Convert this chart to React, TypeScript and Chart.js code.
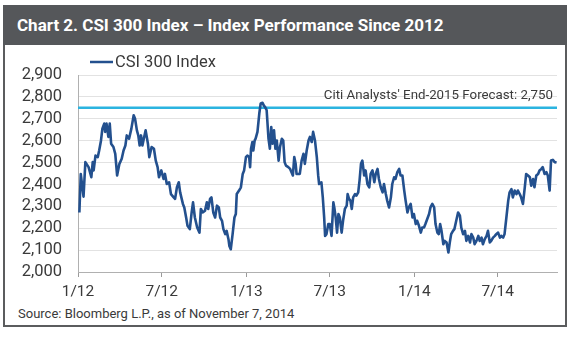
import React, { useEffect, useRef } from "react";
import { Chart, registerables } from "chart.js";

Chart.register(...registerables);

const titleText = "Chart 2. CSI 300 Index \u2013 Index Performance Since 2012";
const sourceText = "Source: Bloomberg L.P., as of November 7, 2014";
const seriesLabel = "CSI 300 Index";
const forecastLabel = "Citi Analysts' End-2015 Forecast: 2,750";
const forecastValue = 2750;

// x axis: days since 1 Jan 2012
const tickDays = [0, 182, 366, 547, 731, 912];
const tickLabels = ["1/12", "7/12", "1/13", "7/13", "1/14", "7/14"];
const lastDay = 1041;
const yMin = 2000;
const yMax = 2900;
const yStep = 100;

const dayOffsets = [
  3, 6, 12, 16, 23, 29, 32, 34, 38, 43, 46, 50, 53, 57, 59, 62, 66, 69, 72, 77, 81, 85, 90, 95, 99, 103, 106, 111, 116, 121,
  124, 128, 131, 134, 137, 140, 143, 147, 152, 155, 160, 165, 169, 173, 176, 181, 186, 189, 193, 198, 202,
  208, 211, 215, 219, 222, 228, 231, 235, 238, 243, 247, 250, 254, 259, 264, 267, 271, 276, 280, 283, 287, 290, 294, 298,
  302, 306, 309, 313, 316, 320, 323, 327, 329, 332, 336, 340, 343, 345, 350, 354, 358, 361, 365, 368, 372, 374, 376, 379,
  381, 384, 386, 390, 394, 397, 401,
  404, 407, 410, 414, 417, 420, 423, 426, 429, 432, 436, 439, 443, 446, 449, 452, 457, 461, 464, 467, 470, 473, 475, 479,
  482, 486, 490, 493, 497, 501, 504, 508, 511, 515, 519, 522, 524, 529, 532, 535, 537, 540, 544, 547, 551, 555, 557, 560,
  563, 566, 569, 573, 576, 580, 584, 586, 589, 592, 595, 598, 602, 605, 609, 612, 615, 618,
  622, 625, 629, 633, 636, 640, 644, 647, 651, 654, 658, 662, 665, 669, 672, 676, 680, 683, 687, 690, 694, 698, 701, 705,
  709, 712, 716, 719, 723, 727, 730, 734, 737, 741, 745, 748, 752, 755, 759, 763, 766, 770, 774, 777, 781, 784, 787, 790,
  794, 797, 801, 805, 808, 811, 815, 818,
  822, 826, 830, 833, 837, 841, 844, 848, 852, 855, 859, 862, 866, 870, 873, 877, 880, 884, 888, 891, 895, 898, 902, 906,
  909, 913, 917, 920, 924, 927, 931, 935, 938, 942, 945, 949, 953, 956, 960, 963, 967, 971, 974, 978, 982, 985, 989, 992,
  996, 1000, 1003, 1007, 1010, 1014, 1018, 1021, 1025, 1028, 1032, 1036, 1040,
];

const indexValues = [
  2272, 2448, 2344, 2502, 2479, 2433, 2502, 2464, 2532, 2525, 2555, 2601, 2655, 2678, 2640, 2678, 2617, 2678, 2586, 2571,
  2540, 2441, 2494, 2517, 2555, 2578, 2624, 2609, 2655, 2716,
  2700, 2647, 2624, 2578, 2624, 2578, 2609, 2647, 2586, 2525, 2571, 2563, 2509, 2479, 2433, 2464, 2425, 2448, 2402, 2410, 2356,
  2341, 2334, 2387, 2410, 2364, 2311, 2295, 2249, 2211, 2196, 2272, 2318, 2249, 2203, 2180, 2288, 2272, 2280, 2318, 2288,
  2334, 2341, 2272, 2249,
  2303, 2295, 2249, 2234, 2196, 2173, 2188, 2150, 2119, 2104, 2173, 2249, 2265, 2356, 2372, 2387, 2448, 2464, 2525, 2532,
  2525, 2479, 2563, 2594,
  2555, 2601, 2609, 2640, 2724, 2770, 2773,
  2760, 2752, 2739, 2609, 2563, 2662, 2586, 2647, 2563, 2601, 2509, 2571, 2609, 2601, 2502, 2486, 2479, 2471, 2456, 2441,
  2525, 2494, 2448, 2448,
  2448, 2509, 2540, 2494, 2555, 2601, 2617, 2594, 2640, 2601, 2525, 2441, 2402, 2410, 2341, 2249, 2165, 2173, 2219, 2219,
  2165, 2318, 2295, 2249,
  2180, 2265, 2249, 2180, 2234, 2288, 2303, 2356, 2334, 2326, 2288, 2341, 2356, 2349, 2364, 2420, 2494, 2509,
  2441, 2464, 2402, 2387, 2448, 2464, 2410, 2448, 2471, 2425, 2387, 2364, 2402, 2356, 2326, 2295, 2341, 2402, 2433, 2425,
  2456, 2471, 2441, 2441,
  2372, 2326, 2272, 2295, 2311, 2249, 2265, 2219, 2234, 2211, 2180, 2203, 2203, 2219, 2242, 2265, 2295, 2311, 2295, 2219,
  2180, 2173, 2219, 2188,
  2127, 2142, 2135, 2089, 2135, 2173, 2188, 2196,
  2234, 2272, 2257, 2203, 2173, 2188, 2142, 2165, 2135, 2173, 2157, 2127, 2142, 2165, 2142, 2157, 2127, 2150, 2165, 2188,
  2135, 2142, 2157, 2165,
  2173, 2180, 2157, 2165, 2157, 2173, 2249, 2326, 2364, 2379, 2341, 2372, 2356, 2372, 2356, 2341, 2311, 2387, 2448, 2441,
  2433, 2394, 2425, 2387,
  2441, 2448, 2464, 2471, 2479, 2448, 2456, 2441, 2372, 2509, 2512, 2502, 2500,
];

const lineColor = "#23508e";
const forecastColor = "#2bb4e0";
const textColor = "#3a3a3a";
const fontFamily = "Roboto, 'Noto Sans', sans-serif";

const overlayPlugin = {
  id: "overlayText",
  afterDraw(chart: any) {
    const ctx = chart.ctx;
    const area = chart.chartArea;
    const yScale = chart.scales.y;
    ctx.save();
    // legend
    const ly = 62;
    ctx.strokeStyle = lineColor;
    ctx.lineWidth = 2.5;
    ctx.beginPath();
    ctx.moveTo(90, ly);
    ctx.lineTo(113, ly);
    ctx.stroke();
    ctx.fillStyle = textColor;
    ctx.font = "16.5px " + fontFamily;
    ctx.textBaseline = "middle";
    ctx.textAlign = "left";
    ctx.fillText(seriesLabel, 115, ly + 1);
    // forecast label
    const fy = yScale.getPixelForValue(forecastValue);
    ctx.font = "13.3px " + fontFamily;
    ctx.textAlign = "right";
    ctx.textBaseline = "alphabetic";
    ctx.fillText(forecastLabel, area.right - 4, fy - 9);
    ctx.restore();
  },
};

function ChartCanvas() {
  const ref = useRef<HTMLCanvasElement | null>(null);
  useEffect(() => {
    if (!ref.current) return;
    const points = dayOffsets.map((d, i) => ({ x: d, y: indexValues[i] }));
    const chart = new Chart(ref.current, {
      type: "line",
      data: {
        datasets: [
          {
            label: "Forecast",
            data: [
              { x: 0, y: forecastValue },
              { x: lastDay, y: forecastValue },
            ],
            borderColor: forecastColor,
            borderWidth: 2.5,
            pointRadius: 0,
            order: 2,
          },
          {
            label: seriesLabel,
            data: points,
            borderColor: lineColor,
            borderWidth: 2.6,
            pointRadius: 0,
            tension: 0,
            borderJoinStyle: "round",
            order: 1,
          },
        ],
      },
      options: {
        animation: false,
        responsive: false,
        maintainAspectRatio: false,
        devicePixelRatio: 1,
        layout: { padding: { left: 0, top: 75, right: 14, bottom: 0 } },
        plugins: { legend: { display: false }, tooltip: { enabled: false }, title: { display: false } },
        scales: {
          x: {
            type: "linear",
            min: 0,
            max: lastDay,
            afterBuildTicks: (scale: any) => {
              scale.ticks = tickDays.map((v) => ({ value: v }));
            },
            afterFit: (scale: any) => {
              scale.height = 65;
            },
            grid: { display: true, drawOnChartArea: false, drawTicks: true, tickLength: 5, color: "#9a9a9a" },
            border: { display: true, color: "#b0b0b0", width: 1 },
            ticks: {
              autoSkip: false,
              maxRotation: 0,
              padding: 6,
              color: textColor,
              font: { family: fontFamily, size: 15.5 },
              callback: (v: any) => {
                const i = tickDays.indexOf(Number(v));
                return i >= 0 ? tickLabels[i] : "";
              },
            },
          },
          y: {
            min: yMin,
            max: yMax,
            afterFit: (scale: any) => {
              scale.width = 78;
            },
            grid: { color: "#e2e2e2", drawTicks: false, lineWidth: 1 },
            border: { display: true, color: "#b0b0b0", width: 1 },
            ticks: {
              stepSize: yStep,
              autoSkip: false,
              padding: 16,
              color: textColor,
              font: { family: fontFamily, size: 16.5 },
              callback: (v: any) => Number(v).toLocaleString("en-US"),
            },
          },
        },
      },
      plugins: [overlayPlugin],
    });
    return () => chart.destroy();
  }, []);
  return (
    <canvas
      ref={ref}
      width={571}
      height={337}
      style={{ position: "absolute", left: 0, top: 0, width: 571, height: 337 }}
    />
  );
}

export default function App() {
  useEffect(() => {
    document.body.style.margin = "0";
  }, []);
  return (
    <div style={{ position: "fixed", left: 0, top: 0, width: 571, height: 337, background: "#fff", overflow: "hidden" }}>
      <div
        style={{
          position: "absolute",
          left: 3,
          top: 5,
          width: 560,
          height: 318,
          border: "2px solid #5b5c5e",
          boxSizing: "content-box",
        }}
      />
      <div
        style={{
          position: "absolute",
          left: 3,
          top: 5,
          width: 564,
          height: 40,
          background: "#55575a",
        }}
      />
      <div
        style={{
          position: "absolute",
          left: 17,
          top: 5,
          height: 40,
          lineHeight: "40px",
          color: "#fff",
          fontFamily: fontFamily,
          fontWeight: 700,
          fontSize: 17,
          whiteSpace: "nowrap",
        }}
      >
        {titleText}
      </div>
      <div
        style={{
          position: "absolute",
          left: 18,
          top: 305,
          lineHeight: "18px",
          color: textColor,
          fontFamily: fontFamily,
          fontSize: 13,
          whiteSpace: "nowrap",
        }}
      >
        {sourceText}
      </div>
      <ChartCanvas />
    </div>
  );
}
